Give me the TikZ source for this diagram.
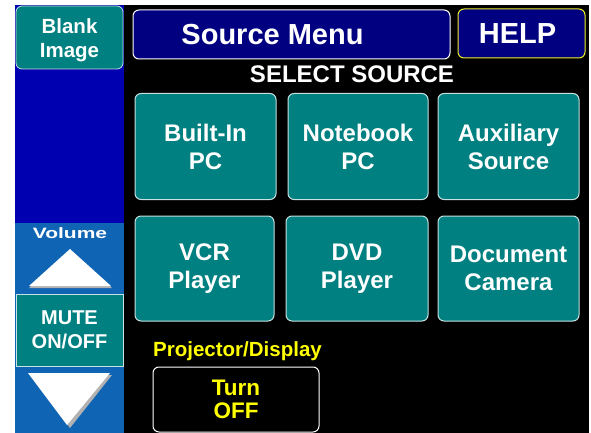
\documentclass[tikz,border=0pt]{standalone}
\usepackage{fontspec}
\setmainfont{Liberation Sans}
\definecolor{tealbtn}{RGB}{0,128,128}
\definecolor{navybox}{RGB}{0,0,128}
\definecolor{panelblue}{RGB}{0,0,176}
\definecolor{lightblue}{RGB}{16,100,180}
\definecolor{btnedge}{RGB}{200,225,225}
\definecolor{helpyellow}{RGB}{240,240,40}
\definecolor{txtyellow}{RGB}{255,255,0}
\tikzset{
  srcbtn/.style={draw=btnedge, line width=1pt, fill=tealbtn, rounded corners=6pt, text=white,
    align=center, font={\fontsize{24}{28}\selectfont\bfseries}, inner sep=0pt},
  sidebtn/.style={draw=btnedge, line width=0.8pt, fill=tealbtn, text=white,
    align=center, font={\fontsize{20}{23.5}\selectfont\bfseries}, inner sep=0pt},
  titlebox/.style={fill=navybox, rounded corners=6pt, line width=1pt, inner sep=0pt},
  titletext/.style={text=white, font={\fontsize{29}{32}\selectfont\bfseries}, inner sep=0pt},
  arrowtri/.style={fill=white},
  arrowshadow/.style={fill=gray!60}
}
\begin{document}
\begin{tikzpicture}[x=1pt,y=-1pt]
\useasboundingbox (0,0) rectangle (591,433);
\fill[white] (0,0) rectangle (591,433);
\fill[black] (15,5) rectangle (589,433);
% left panel
\fill[panelblue] (15,5) rectangle (124,223);
\fill[lightblue] (15,223) rectangle (124,433);
\node[sidebtn, rounded corners=6pt, minimum width=107pt, minimum height=63pt] (blank) at (69.5,37.5) {};
\node[text=white, align=center, font={\fontsize{20.5}{24}\selectfont\bfseries}, inner sep=0pt] (blanklbl) at (69.5,40) {Blank\\Image};
\node[text=white, font={\fontsize{15}{15}\selectfont\bfseries}, inner sep=0pt] (vol) at (70,233) {\scalebox{1.4}[1]{Volume}};
% up arrow
\fill[arrowshadow] (29,288) -- (112,288) -- (70,251) -- cycle;
\fill[arrowtri] (29,286) -- (111,286) -- (70,249) -- cycle;
\node[sidebtn, minimum width=107pt, minimum height=72pt] (mute) at (69.5,330) {MUTE\\ON/OFF};
% down arrow
\fill[arrowshadow] (30,375) -- (112,375) -- (70,428) -- cycle;
\fill[arrowtri] (28,373) -- (110,373) -- (67,425) -- cycle;
% title
\node[titlebox, draw=white, minimum width=317pt, minimum height=49pt] (title) at (291.5,34.5) {};
\node[titletext] (titlelbl) at (272.5,35) {Source Menu};
\node[titlebox, draw=helpyellow, minimum width=127pt, minimum height=49pt] (help) at (521.5,33.5) {};
\node[titletext] (helplbl) at (517.5,34) {HELP};
\node[text=white, font={\fontsize{24}{24}\selectfont\bfseries}, inner sep=0pt] (select) at (352,74) {SELECT SOURCE};
% source buttons
\node[srcbtn, minimum width=141pt, minimum height=106pt] (builtin) at (205.5,146.5) {Built-In\\PC};
\node[srcbtn, minimum width=140pt, minimum height=106pt] (notebook) at (358,146.5) {Notebook\\PC};
\node[srcbtn, minimum width=141pt, minimum height=106pt] (aux) at (508.5,146.5) {Auxiliary\\Source};
\node[srcbtn, minimum width=139pt, minimum height=105pt] (vcr) at (204.5,268.5) {VCR\\Player};
\node[srcbtn, minimum width=142pt, minimum height=105pt] (dvd) at (357,268.5) {DVD\\Player};
\node[srcbtn, minimum width=141pt, minimum height=105pt] (doccam) at (508.5,268.5) {Document\\Camera};
% projector
\node[text=txtyellow, font={\fontsize{20.5}{21}\selectfont\bfseries}, inner sep=0pt] (proj) at (237.5,351) {Projector/Display};
\node[draw=white, line width=1pt, fill=black, rounded corners=6pt, text=txtyellow, align=center,
  font={\fontsize{22.5}{23}\selectfont\bfseries}, inner sep=0pt, minimum width=166pt, minimum height=65pt] (turnoff) at (236,399.5) {Turn\\OFF};
\end{tikzpicture}
\end{document}
